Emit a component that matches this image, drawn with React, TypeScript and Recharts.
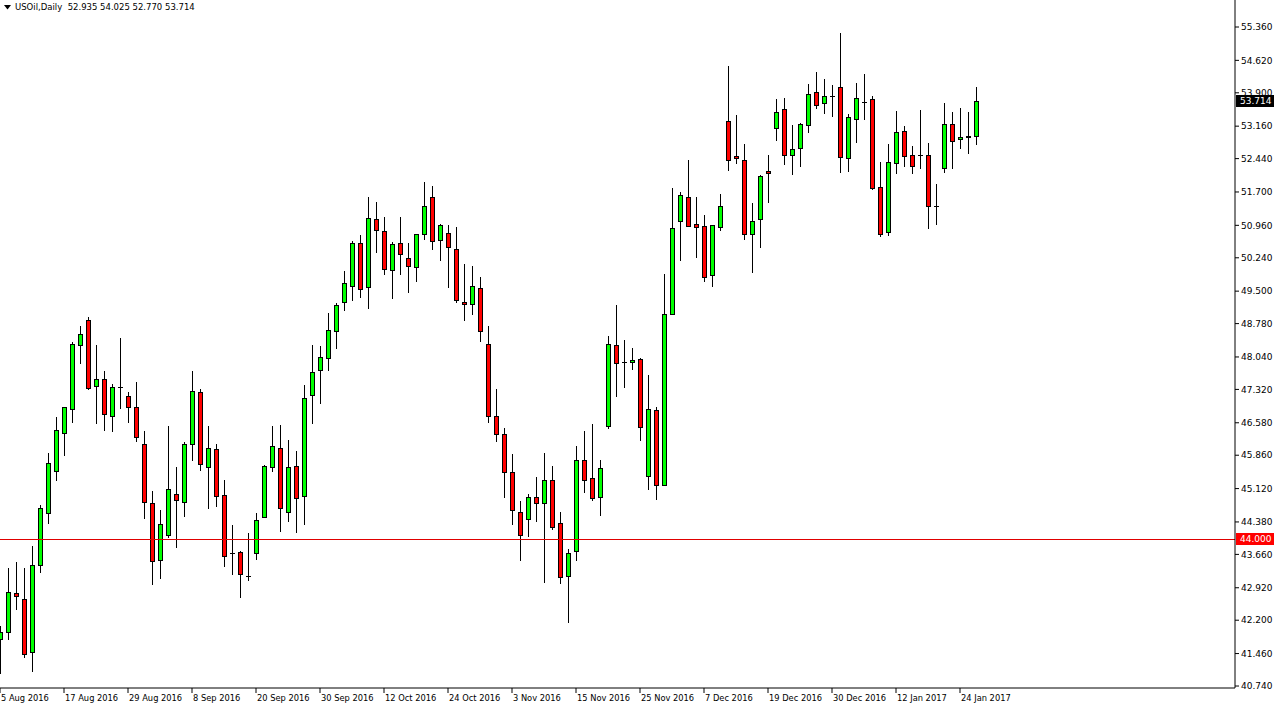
import React from 'react';
import { ComposedChart, Bar, XAxis, YAxis, ReferenceLine } from 'recharts';

// daily USOil candles, 5 Aug 2016 .. 26 Jan 2017
const opens = [
	41.78, 41.93, 42.8, 42.68, 41.49, 43.42, 44.57, 45.52, 46.35, 46.88,
	48.3, 48.85, 47.39, 47.54, 46.74, 47.37, 47.17, 46.94, 46.1, 44.81,
	43.53, 44.1, 45.01, 44.83, 46.12, 47.26, 45.59, 45.99, 44.97, 43.68,
	43.71, 43.17, 43.68, 44.5, 45.59, 46.03, 44.61, 45.61, 44.95, 47.19,
	47.74, 48.01, 48.61, 49.25, 49.61, 50.56, 49.6, 51.09, 50.83, 49.96,
	50.56, 50.23, 50.03, 50.76, 51.58, 50.63, 50.78, 50.43, 49.27, 49.21,
	49.58, 48.32, 46.74, 46.32, 45.48, 44.61, 44.44, 44.93, 44.79, 45.3,
	44.35, 43.17, 43.73, 45.75, 45.35, 44.93, 46.5, 48.3, 47.92, 47.93,
	47.99, 45.39, 46.86, 45.21, 48.99, 51.05, 51.58, 50.98, 50.94, 49.85,
	50.92, 53.27, 52.49, 52.42, 50.76, 51.09, 52.16, 53.13, 53.53, 52.51,
	52.67, 53.18, 53.91, 53.67, 53.82, 54.02, 52.45, 53.33, 53.7, 53.76,
	51.8, 50.81, 52.34, 53.05, 52.51, 52.51, 52.51, 51.4, 52.23, 53.2,
	52.87, 52.92, 52.935,
];
const highs = [
	42.07, 43.36, 43.49, 43.36, 43.84, 44.75, 45.91, 46.71, 46.93, 48.37,
	48.73, 48.93, 48.3, 47.73, 47.43, 48.45, 47.26, 47.48, 46.4, 45.07,
	44.64, 46.51, 45.6, 46.15, 47.73, 47.32, 46.51, 46.1, 45.31, 44.31,
	43.73, 44.13, 44.57, 45.64, 46.51, 46.53, 46.19, 45.95, 47.41, 48.3,
	48.28, 49.01, 49.23, 49.94, 50.61, 50.74, 51.58, 51.48, 51.14, 50.58,
	51.14, 50.56, 50.76, 51.92, 51.83, 51.0, 50.96, 50.92, 50.1, 50.05,
	49.81, 48.72, 47.32, 46.46, 45.88, 44.84, 44.99, 45.37, 45.92, 45.61,
	44.59, 43.77, 46.06, 46.39, 46.55, 45.75, 48.5, 49.19, 48.41, 48.23,
	48.01, 47.63, 46.94, 49.87, 51.78, 51.71, 52.4, 51.58, 51.18, 50.96,
	51.65, 54.5, 53.4, 52.76, 51.45, 52.07, 52.51, 53.76, 53.78, 53.18,
	53.22, 54.09, 54.36, 54.2, 54.07, 55.22, 53.42, 54.11, 54.31, 53.82,
	52.36, 52.76, 53.49, 53.16, 52.71, 53.51, 52.78, 51.87, 53.67, 53.47,
	53.56, 53.47, 54.025,
];
const lows = [
	41.03, 41.78, 42.45, 41.39, 41.08, 43.27, 44.36, 45.32, 45.87, 46.6,
	47.91, 47.32, 46.58, 46.43, 46.4, 46.91, 46.6, 46.18, 44.47, 43.01,
	43.13, 44.05, 43.83, 44.52, 45.76, 45.54, 44.69, 44.74, 43.41, 43.23,
	42.72, 43.09, 43.55, 44.5, 45.5, 44.18, 44.41, 44.16, 44.34, 46.58,
	47.02, 47.76, 48.24, 49.09, 49.31, 49.38, 49.13, 50.37, 49.89, 49.35,
	49.89, 49.49, 49.73, 50.66, 50.44, 50.2, 49.6, 49.27, 48.87, 49.0,
	48.4, 46.6, 46.18, 44.94, 44.34, 43.54, 44.07, 44.39, 43.05, 44.23,
	43.03, 42.17, 43.53, 45.04, 44.86, 44.54, 46.46, 47.17, 47.38, 47.78,
	46.19, 45.12, 44.88, 45.21, 48.99, 50.18, 50.94, 50.26, 49.72, 49.61,
	50.85, 52.18, 52.34, 50.66, 49.93, 50.49, 51.48, 52.85, 52.31, 52.09,
	52.27, 53.02, 53.56, 53.46, 53.39, 52.14, 52.16, 52.8, 53.33, 51.76,
	50.72, 50.74, 52.11, 52.27, 52.11, 52.23, 50.89, 51.0, 52.14, 52.23,
	52.67, 52.56, 52.77,
];
const closes = [
	41.94, 42.82, 42.73, 41.46, 43.42, 44.68, 45.68, 46.41, 46.92, 48.33,
	48.54, 47.36, 47.54, 46.77, 47.37, 47.37, 46.94, 46.26, 44.83, 43.51,
	44.33, 45.1, 44.86, 46.12, 47.28, 45.66, 46.03, 44.95, 43.62, 43.68,
	43.22, 43.17, 44.42, 45.62, 46.06, 44.68, 45.59, 44.9, 47.14, 47.7,
	48.05, 48.63, 49.19, 49.67, 50.56, 49.54, 51.12, 50.85, 50.0, 50.54,
	50.32, 50.05, 50.76, 51.4, 50.61, 50.96, 50.47, 49.3, 49.21, 49.61,
	48.61, 46.74, 46.33, 45.48, 44.64, 44.08, 44.93, 44.81, 45.3, 44.26,
	43.15, 43.68, 45.75, 45.3, 44.9, 45.57, 48.32, 47.9, 47.92, 47.97,
	46.48, 46.88, 45.21, 48.99, 50.89, 51.63, 50.94, 50.92, 49.81, 50.96,
	51.4, 52.42, 52.45, 50.76, 51.05, 52.05, 52.11, 53.47, 52.51, 52.65,
	53.2, 53.87, 53.62, 53.82, 53.82, 52.47, 53.36, 53.78, 53.7, 51.78,
	50.76, 52.36, 53.02, 52.49, 52.27, 52.51, 51.38, 51.4, 53.2, 52.82,
	52.91, 52.935, 53.714,
];

const dateTicks = [0, 8, 16, 24, 32, 40, 48, 56, 64, 72, 80, 88, 96, 104, 112, 120];
const dateLabels = [
	'5 Aug 2016', '17 Aug 2016', '29 Aug 2016', '8 Sep 2016', '20 Sep 2016',
	'30 Sep 2016', '12 Oct 2016', '24 Oct 2016', '3 Nov 2016', '15 Nov 2016',
	'25 Nov 2016', '7 Dec 2016', '19 Dec 2016', '30 Dec 2016', '12 Jan 2017',
	'24 Jan 2017',
];
const priceTicks = [
	40.74, 41.46, 42.2, 42.92, 43.66, 44.38, 45.12, 45.86, 46.58, 47.32, 48.04,
	48.78, 49.5, 50.24, 50.96, 51.7, 52.44, 53.16, 53.9, 54.62, 55.36,
];

const lastPrice = 53.714;
const alertLevel = 44.0;

const data = opens.map((open, i) => ({
	i,
	open,
	high: highs[i],
	low: lows[i],
	close: closes[i],
}));

const FONT = '"DejaVu Sans", sans-serif';

const Candle = (props: any) => {
	const { x, y, width, height, payload } = props;
	const { open, close, high, low } = payload;
	const top = Math.min(y, y + height);
	const bottom = Math.max(y, y + height);
	const k = (bottom - top) / (high - low || 1);
	const toY = (v: number) => top + (high - v) * k;
	const cx = Math.round(x + width / 2) + 0.5;
	const yo = toY(open);
	const yc = toY(close);
	const bTop = Math.round(Math.min(yo, yc)) + 0.5;
	const bBot = Math.round(Math.max(yo, yc)) + 0.5;
	const up = close >= open;
	return (
		<g>
			<line x1={cx} x2={cx} y1={Math.round(top)} y2={Math.round(bottom) + 1} stroke='#000' />
			{bBot - bTop < 1 ? (
				<line x1={cx - 2.5} x2={cx + 2.5} y1={bTop} y2={bTop} stroke='#000' />
			) : (
				<rect
					x={cx - 2}
					y={bTop}
					width={4}
					height={bBot - bTop}
					fill={up ? '#00ff00' : '#ff0000'}
					stroke='#000'
				/>
			)}
		</g>
	);
};

const DateTick = ({ x, y, payload }: any) => {
	const idx = dateTicks.indexOf(payload.value);
	return (
		<text x={x + 1} y={y} dy='0.71em' fontSize={8.3} fontFamily={FONT} fill='#000'>
			{dateLabels[idx]}
		</text>
	);
};

const priceTag = (bg: string, text: string) => (p: any) => {
	const { viewBox } = p;
	if (!viewBox) return null;
	const left = viewBox.x + viewBox.width + 1;
	const cy = Math.round(viewBox.y);
	return (
		<g>
			<rect x={left} y={cy - 6} width={38} height={12} fill={bg} />
			<text
				x={left + 4}
				y={cy}
				dy='0.355em'
				fontSize={9}
				fontFamily={FONT}
				fill='#fff'
			>
				{text}
			</text>
		</g>
	);
};

const App = () => {
	return (
		<div style={{ position: 'absolute', left: 0, top: 0, width: 1275, height: 715, background: '#fff' }}>
			<ComposedChart
				width={1275}
				height={715}
				data={data}
				margin={{ top: 0, right: 0, bottom: 0, left: 0 }}
			>
				<XAxis
					type='number'
					dataKey='i'
					domain={[0, 154.375]}
					ticks={dateTicks}
					interval={0}
					height={27}
					axisLine={{ stroke: '#000' }}
					tickLine={{ stroke: '#000' }}
					tickSize={5}
					tick={<DateTick />}
					allowDataOverflow
				/>
				<YAxis
					orientation='right'
					width={40}
					domain={[40.696, 55.959]}
					ticks={priceTicks}
					interval={0}
					allowDataOverflow
					axisLine={{ stroke: '#000' }}
					tickLine={{ stroke: '#000' }}
					tickSize={4}
					tickFormatter={(v: number) => v.toFixed(3)}
					tick={{ fontSize: 9, fontFamily: FONT, fill: '#000', textAnchor: 'start' }}
				/>
				<ReferenceLine
					y={alertLevel}
					stroke='#e00000'
					shapeRendering='crispEdges'
					label={{ content: priceTag('#ff0000', alertLevel.toFixed(3)) }}
				/>
				<Bar
					dataKey={(d: any) => [d.low, d.high]}
					barSize={5}
					shape={<Candle />}
					isAnimationActive={false}
				/>
				<ReferenceLine
					y={lastPrice}
					stroke='none'
					label={{ content: priceTag('#000', lastPrice.toFixed(3)) }}
				/>
			</ComposedChart>
			<div
				style={{
					position: 'absolute',
					left: 4,
					top: 1,
					fontFamily: FONT,
					fontSize: 8.5,
					color: '#000',
					whiteSpace: 'pre',
					lineHeight: '12px',
				}}
			>
				<svg width={7} height={5} style={{ marginRight: 4, verticalAlign: 'middle' }}>
					<polygon points='0,0 7,0 3.5,4.5' fill='#000' />
				</svg>
				{'USOil,Daily  52.935 54.025 52.770 53.714'}
			</div>
		</div>
	);
};

export default App;
